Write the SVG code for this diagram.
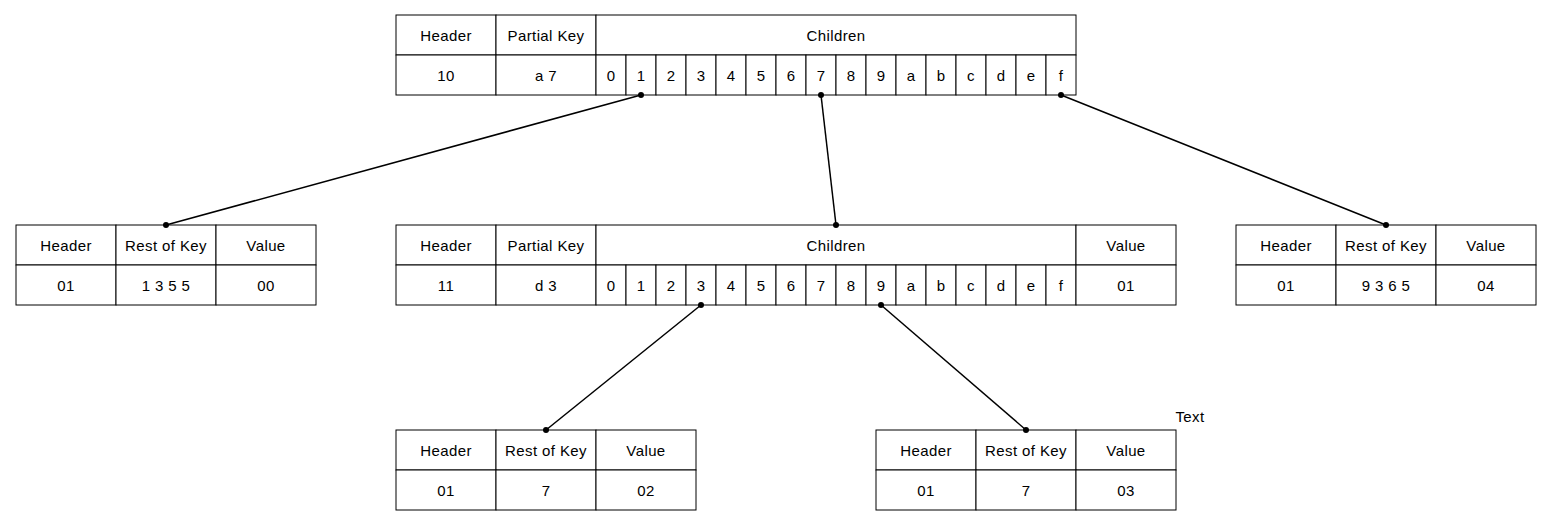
<svg xmlns="http://www.w3.org/2000/svg" width="1551" height="527" viewBox="0 0 1551 527">
<style>
.c{fill:#fff;stroke:#000;stroke-width:1}
.t{font-family:"Liberation Sans",Arial,sans-serif;font-size:15px;letter-spacing:0.4px;fill:#000;text-anchor:middle;dominant-baseline:central}
.e{stroke:#000;stroke-width:1.5;fill:none}
.d{fill:#000}
</style>
<rect width="1551" height="527" fill="#fff"/>
<g id="root">
<rect class="c" x="396" y="15" width="100" height="40"/><text class="t" x="446" y="35">Header</text>
<rect class="c" x="496" y="15" width="100" height="40"/><text class="t" x="546" y="35">Partial Key</text>
<rect class="c" x="596" y="15" width="480" height="40"/><text class="t" x="836" y="35">Children</text>
<rect class="c" x="396" y="55" width="100" height="40"/><text class="t" x="446" y="75">10</text>
<rect class="c" x="496" y="55" width="100" height="40"/><text class="t" x="546" y="75">a 7</text>
<rect class="c" x="596" y="55" width="30" height="40"/><text class="t" x="611" y="75">0</text>
<rect class="c" x="626" y="55" width="30" height="40"/><text class="t" x="641" y="75">1</text>
<rect class="c" x="656" y="55" width="30" height="40"/><text class="t" x="671" y="75">2</text>
<rect class="c" x="686" y="55" width="30" height="40"/><text class="t" x="701" y="75">3</text>
<rect class="c" x="716" y="55" width="30" height="40"/><text class="t" x="731" y="75">4</text>
<rect class="c" x="746" y="55" width="30" height="40"/><text class="t" x="761" y="75">5</text>
<rect class="c" x="776" y="55" width="30" height="40"/><text class="t" x="791" y="75">6</text>
<rect class="c" x="806" y="55" width="30" height="40"/><text class="t" x="821" y="75">7</text>
<rect class="c" x="836" y="55" width="30" height="40"/><text class="t" x="851" y="75">8</text>
<rect class="c" x="866" y="55" width="30" height="40"/><text class="t" x="881" y="75">9</text>
<rect class="c" x="896" y="55" width="30" height="40"/><text class="t" x="911" y="75">a</text>
<rect class="c" x="926" y="55" width="30" height="40"/><text class="t" x="941" y="75">b</text>
<rect class="c" x="956" y="55" width="30" height="40"/><text class="t" x="971" y="75">c</text>
<rect class="c" x="986" y="55" width="30" height="40"/><text class="t" x="1001" y="75">d</text>
<rect class="c" x="1016" y="55" width="30" height="40"/><text class="t" x="1031" y="75">e</text>
<rect class="c" x="1046" y="55" width="30" height="40"/><text class="t" x="1061" y="75">f</text>
</g>
<g id="leaf1">
<rect class="c" x="16" y="225" width="100" height="40"/><text class="t" x="66" y="245">Header</text>
<rect class="c" x="116" y="225" width="100" height="40"/><text class="t" x="166" y="245">Rest of Key</text>
<rect class="c" x="216" y="225" width="100" height="40"/><text class="t" x="266" y="245">Value</text>
<rect class="c" x="16" y="265" width="100" height="40"/><text class="t" x="66" y="285">01</text>
<rect class="c" x="116" y="265" width="100" height="40"/><text class="t" x="166" y="285">1 3 5 5</text>
<rect class="c" x="216" y="265" width="100" height="40"/><text class="t" x="266" y="285">00</text>
</g>
<g id="inner">
<rect class="c" x="396" y="225" width="100" height="40"/><text class="t" x="446" y="245">Header</text>
<rect class="c" x="496" y="225" width="100" height="40"/><text class="t" x="546" y="245">Partial Key</text>
<rect class="c" x="596" y="225" width="480" height="40"/><text class="t" x="836" y="245">Children</text>
<rect class="c" x="1076" y="225" width="100" height="40"/><text class="t" x="1126" y="245">Value</text>
<rect class="c" x="396" y="265" width="100" height="40"/><text class="t" x="446" y="285">11</text>
<rect class="c" x="496" y="265" width="100" height="40"/><text class="t" x="546" y="285">d 3</text>
<rect class="c" x="596" y="265" width="30" height="40"/><text class="t" x="611" y="285">0</text>
<rect class="c" x="626" y="265" width="30" height="40"/><text class="t" x="641" y="285">1</text>
<rect class="c" x="656" y="265" width="30" height="40"/><text class="t" x="671" y="285">2</text>
<rect class="c" x="686" y="265" width="30" height="40"/><text class="t" x="701" y="285">3</text>
<rect class="c" x="716" y="265" width="30" height="40"/><text class="t" x="731" y="285">4</text>
<rect class="c" x="746" y="265" width="30" height="40"/><text class="t" x="761" y="285">5</text>
<rect class="c" x="776" y="265" width="30" height="40"/><text class="t" x="791" y="285">6</text>
<rect class="c" x="806" y="265" width="30" height="40"/><text class="t" x="821" y="285">7</text>
<rect class="c" x="836" y="265" width="30" height="40"/><text class="t" x="851" y="285">8</text>
<rect class="c" x="866" y="265" width="30" height="40"/><text class="t" x="881" y="285">9</text>
<rect class="c" x="896" y="265" width="30" height="40"/><text class="t" x="911" y="285">a</text>
<rect class="c" x="926" y="265" width="30" height="40"/><text class="t" x="941" y="285">b</text>
<rect class="c" x="956" y="265" width="30" height="40"/><text class="t" x="971" y="285">c</text>
<rect class="c" x="986" y="265" width="30" height="40"/><text class="t" x="1001" y="285">d</text>
<rect class="c" x="1016" y="265" width="30" height="40"/><text class="t" x="1031" y="285">e</text>
<rect class="c" x="1046" y="265" width="30" height="40"/><text class="t" x="1061" y="285">f</text>
<rect class="c" x="1076" y="265" width="100" height="40"/><text class="t" x="1126" y="285">01</text>
</g>
<g id="leaf2">
<rect class="c" x="1236" y="225" width="100" height="40"/><text class="t" x="1286" y="245">Header</text>
<rect class="c" x="1336" y="225" width="100" height="40"/><text class="t" x="1386" y="245">Rest of Key</text>
<rect class="c" x="1436" y="225" width="100" height="40"/><text class="t" x="1486" y="245">Value</text>
<rect class="c" x="1236" y="265" width="100" height="40"/><text class="t" x="1286" y="285">01</text>
<rect class="c" x="1336" y="265" width="100" height="40"/><text class="t" x="1386" y="285">9 3 6 5</text>
<rect class="c" x="1436" y="265" width="100" height="40"/><text class="t" x="1486" y="285">04</text>
</g>
<g id="leaf3">
<rect class="c" x="396" y="430" width="100" height="40"/><text class="t" x="446" y="450">Header</text>
<rect class="c" x="496" y="430" width="100" height="40"/><text class="t" x="546" y="450">Rest of Key</text>
<rect class="c" x="596" y="430" width="100" height="40"/><text class="t" x="646" y="450">Value</text>
<rect class="c" x="396" y="470" width="100" height="40"/><text class="t" x="446" y="490">01</text>
<rect class="c" x="496" y="470" width="100" height="40"/><text class="t" x="546" y="490">7</text>
<rect class="c" x="596" y="470" width="100" height="40"/><text class="t" x="646" y="490">02</text>
</g>
<g id="leaf4">
<rect class="c" x="876" y="430" width="100" height="40"/><text class="t" x="926" y="450">Header</text>
<rect class="c" x="976" y="430" width="100" height="40"/><text class="t" x="1026" y="450">Rest of Key</text>
<rect class="c" x="1076" y="430" width="100" height="40"/><text class="t" x="1126" y="450">Value</text>
<rect class="c" x="876" y="470" width="100" height="40"/><text class="t" x="926" y="490">01</text>
<rect class="c" x="976" y="470" width="100" height="40"/><text class="t" x="1026" y="490">7</text>
<rect class="c" x="1076" y="470" width="100" height="40"/><text class="t" x="1126" y="490">03</text>
</g>
<g id="label">
<text class="t" x="1190" y="416">Text</text>
</g>
<g id="connectors">
<line class="e" x1="641" y1="95" x2="166" y2="225"/>
<line class="e" x1="821" y1="95" x2="836" y2="225"/>
<line class="e" x1="1061" y1="95" x2="1386" y2="225"/>
<line class="e" x1="701" y1="305" x2="546" y2="430"/>
<line class="e" x1="881" y1="305" x2="1026" y2="430"/>
<circle class="d" cx="641" cy="95" r="3"/>
<circle class="d" cx="166" cy="225" r="3"/>
<circle class="d" cx="821" cy="95" r="3"/>
<circle class="d" cx="836" cy="225" r="3"/>
<circle class="d" cx="1061" cy="95" r="3"/>
<circle class="d" cx="1386" cy="225" r="3"/>
<circle class="d" cx="701" cy="305" r="3"/>
<circle class="d" cx="546" cy="430" r="3"/>
<circle class="d" cx="881" cy="305" r="3"/>
<circle class="d" cx="1026" cy="430" r="3"/>
</g>
</svg>
